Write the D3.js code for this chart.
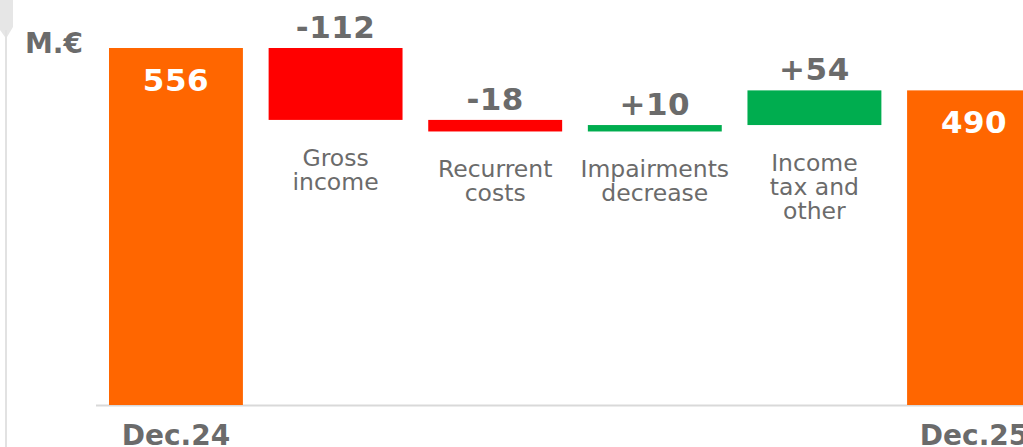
<!DOCTYPE html>
<html>
<head>
<meta charset="utf-8">
<script src="https://cdn.jsdelivr.net/npm/d3@7"></script>
<style>
  html, body { margin: 0; padding: 0; background: #fff; overflow: hidden; }
  svg { display: block; }
</style>
</head>
<body>
<svg id="chart" width="1023" height="447"></svg>
<script>
// Chart data
var categories = ["Dec.24", "Gross income", "Recurrent costs", "Impairments decrease", "Income tax and other", "Dec.25"];
var values = [556, -112, -18, 10, 54, 490];
var kinds = ["total", "delta", "delta", "delta", "delta", "total"];
var valueLabels = ["556", "-112", "-18", "+10", "+54", "490"];
var labelLines = [[], ["Gross", "income"], ["Recurrent", "costs"], ["Impairments", "decrease"], ["Income", "tax and", "other"], []];
var unitLabel = "M.€";

var FONT = "DejaVu Sans, Verdana, sans-serif";
var GREY_TEXT = "#6b6b6b";
var ORANGE = "#ff6600";
var RED = "#ff0000";
var GREEN = "#00ad4f";

var svg = d3.select("#chart");

// running totals -> start / end of each bar
var bars = [];
var running = 0;
for (var i = 0; i < categories.length; i++) {
  var start, end;
  if (kinds[i] == "total") {
    start = 0; end = values[i]; running = values[i];
  } else {
    start = running; end = running + values[i]; running = end;
  }
  bars.push({ cat: categories[i], kind: kinds[i], value: values[i], start: start, end: end,
              label: valueLabels[i], lines: labelLines[i] });
}

var xScale = d3.scaleBand()
  .domain(categories)
  .range([109, 1041])
  .paddingInner(0.161)
  .paddingOuter(0);

var yScale = d3.scaleLinear()
  .domain([0, 556])
  .range([405, 48]);

/*** slide edge decoration ***/
svg.append("path")
  .attr("d", "M0,0 L13,0 L13,27 L7,37 L5,37 L0,30 Z")
  .attr("fill", "#e6e6e6");
svg.append("line")
  .attr("x1", 6).attr("x2", 6)
  .attr("y1", 30).attr("y2", 447)
  .attr("stroke", "#e2e2e2")
  .attr("stroke-width", 2);

/*** baseline ***/
svg.append("line")
  .attr("x1", 96).attr("x2", 1023)
  .attr("y1", yScale(0) + 0.5).attr("y2", yScale(0) + 0.5)
  .attr("stroke", "#d9d9d9")
  .attr("stroke-width", 2);

/*** bars ***/
svg.selectAll("rect.bar")
  .data(bars)
  .enter().append("rect")
  .attr("class", "bar")
  .attr("x", function (d) { return xScale(d.cat); })
  .attr("width", xScale.bandwidth())
  .attr("y", function (d) { return yScale(Math.max(d.start, d.end)); })
  .attr("height", function (d) { return Math.abs(yScale(d.start) - yScale(d.end)); })
  .attr("fill", function (d) {
    if (d.kind == "total") return ORANGE;
    return d.value < 0 ? RED : GREEN;
  });

/*** value labels ***/
svg.selectAll("text.value")
  .data(bars)
  .enter().append("text")
  .attr("class", "value")
  .attr("x", function (d) { return xScale(d.cat) + xScale.bandwidth() / 2; })
  .attr("y", function (d) {
    var top = yScale(Math.max(d.start, d.end));
    return d.kind == "total" ? top + 43 : top - 10;
  })
  .attr("text-anchor", "middle")
  .style("font-family", FONT)
  .style("font-weight", "bold")
  .style("font-size", "31px")
  .style("letter-spacing", "0.5px")
  .style("fill", function (d) { return d.kind == "total" ? "#ffffff" : GREY_TEXT; })
  .text(function (d) { return d.label; });

/*** category labels ***/
bars.forEach(function (d) {
  if (d.kind == "total") {
    svg.append("text")
      .attr("x", xScale(d.cat) + xScale.bandwidth() / 2)
      .attr("y", 445)
      .attr("text-anchor", "middle")
      .style("font-family", FONT)
      .style("font-weight", "bold")
      .style("font-size", "28px")
      .style("fill", GREY_TEXT)
      .text(d.cat);
  } else {
    var bottom = yScale(Math.min(d.start, d.end));
    var t = svg.append("text")
      .attr("text-anchor", "middle")
      .style("font-family", FONT)
      .style("font-size", "23.5px")
      .style("fill", GREY_TEXT);
    d.lines.forEach(function (line, j) {
      t.append("tspan")
        .attr("x", xScale(d.cat) + xScale.bandwidth() / 2)
        .attr("y", bottom + 46 + j * 24)
        .text(line);
    });
  }
});

/*** unit ***/
svg.append("text")
  .attr("x", 25)
  .attr("y", 53)
  .style("font-family", FONT)
  .style("font-weight", "bold")
  .style("font-size", "28px")
  .style("fill", GREY_TEXT)
  .text(unitLabel);
</script>
</body>
</html>
